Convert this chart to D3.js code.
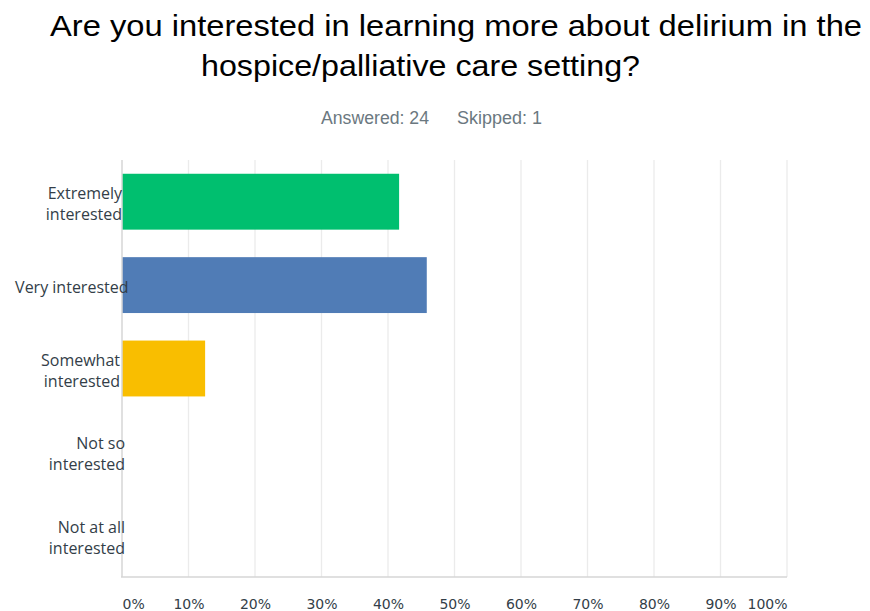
<!DOCTYPE html>
<html>
<head>
<meta charset="utf-8">
<script src="https://cdn.jsdelivr.net/npm/d3@7"></script>
<style>
  html, body { margin: 0; padding: 0; background: #fff; }
  svg { display: block; }
</style>
</head>
<body>
<svg id="chart" width="870" height="611"></svg>
<script>
// Survey responses (share of respondents, %)
const categories = [
  ["Extremely", "interested"],
  ["Very interested"],
  ["Somewhat", "interested"],
  ["Not so", "interested"],
  ["Not at all", "interested"]
];
const values = [41.67, 45.83, 12.5, 0, 0];
const barColors = ["#00bf6f", "#507cb6", "#f9be00", "#6bc8cd", "#a9a9a9"];
const xTicks = [0, 10, 20, 30, 40, 50, 60, 70, 80, 90, 100];
const titleLines = [
  "Are you interested in learning more about delirium in the",
  "hospice/palliative care setting?"
];
const answered = 24;
const skipped = 1;

const svg = d3.select("#chart");
const plot = { left: 122, right: 787, top: 160, bottom: 577 };

const x = d3.scaleLinear().domain([0, 100]).range([plot.left, plot.right]);
const y = d3.scaleBand()
  .domain(d3.range(categories.length))
  .range([plot.top, plot.bottom])
  .paddingInner(0.33)
  .paddingOuter(0.165);

// Title (two lines, each fitted to its width)
const titleLayout = [
  { x: 50, w: 812 },
  { x: 201, w: 439 }
];
svg.selectAll("text.title")
  .data(titleLines)
  .join("text")
  .attr("class", "title")
  .attr("x", (d, i) => titleLayout[i].x)
  .attr("y", (d, i) => 36 + i * 40)
  .attr("textLength", (d, i) => titleLayout[i].w)
  .attr("lengthAdjust", "spacingAndGlyphs")
  .attr("font-family", "'Liberation Sans', Arial, sans-serif")
  .attr("font-size", 29)
  .attr("fill", "#000")
  .text(d => d);

// Respondent counts
const subItems = [
  { t: `Answered: ${answered}`, x: 321, w: 108 },
  { t: `Skipped: ${skipped}`, x: 457, w: 85 }
];
svg.selectAll("text.sub")
  .data(subItems)
  .join("text")
  .attr("class", "sub")
  .attr("x", d => d.x)
  .attr("y", 124)
  .attr("textLength", d => d.w)
  .attr("lengthAdjust", "spacingAndGlyphs")
  .attr("font-family", "'Liberation Sans', Arial, sans-serif")
  .attr("font-size", 17.5)
  .attr("fill", "#6b7880")
  .text(d => d.t);

// Vertical gridlines
svg.append("g")
  .selectAll("line")
  .data(xTicks.slice(1))
  .join("line")
  .attr("x1", d => x(d)).attr("x2", d => x(d))
  .attr("y1", plot.top).attr("y2", plot.bottom)
  .attr("stroke", "#ebebeb")
  .attr("stroke-width", 1.3);

// Bars
svg.append("g")
  .selectAll("rect")
  .data(values)
  .join("rect")
  .attr("x", x(0))
  .attr("y", (d, i) => y(i))
  .attr("width", d => x(d) - x(0))
  .attr("height", y.bandwidth())
  .attr("fill", (d, i) => barColors[i]);

// Axis lines (left and bottom)
svg.append("line")
  .attr("x1", x(0)).attr("x2", x(0))
  .attr("y1", plot.top).attr("y2", plot.bottom)
  .attr("stroke", "#d6d6d6").attr("stroke-width", 1.5);
svg.append("line")
  .attr("x1", x(0) - 1).attr("x2", x(100))
  .attr("y1", plot.bottom).attr("y2", plot.bottom)
  .attr("stroke", "#d6d6d6").attr("stroke-width", 1.5);

// X axis tick labels: first one starts at the axis, last one ends at it
const xAxis = d3.axisBottom(x)
  .tickValues(xTicks)
  .tickFormat(d => d + "%")
  .tickSize(0)
  .tickPadding(0);
const gx = svg.append("g")
  .attr("transform", `translate(0, ${plot.bottom})`)
  .call(xAxis);
gx.select(".domain").remove();
gx.selectAll("text")
  .attr("y", 32)
  .attr("dy", 0)
  .attr("font-family", "'DejaVu Sans', sans-serif")
  .attr("font-size", 14)
  .attr("fill", "#333e48")
  .attr("text-anchor", (d, i, n) => i === 0 ? "start" : (i === n.length - 1 ? "end" : "middle"));

// Category labels
const labelEnd = [122, 128.5, 120, 125, 125];
const lab = svg.append("g")
  .selectAll("text")
  .data(categories)
  .join("text")
  .attr("text-anchor", "end")
  .attr("font-family", "'Open Sans', sans-serif")
  .attr("font-size", 16)
  .attr("fill", "#333e48")
  .attr("transform", (d, i) => {
    const cy = y(i) + y.bandwidth() / 2;
    return `translate(${labelEnd[i]}, ${cy})`;
  });
lab.selectAll("tspan")
  .data(d => d.map((t, j) => ({ t, j, n: d.length })))
  .join("tspan")
  .attr("x", 0)
  .attr("y", d => (d.j - (d.n - 1) / 2) * 21 + 8)
  .text(d => d.t);
</script>
</body>
</html>
